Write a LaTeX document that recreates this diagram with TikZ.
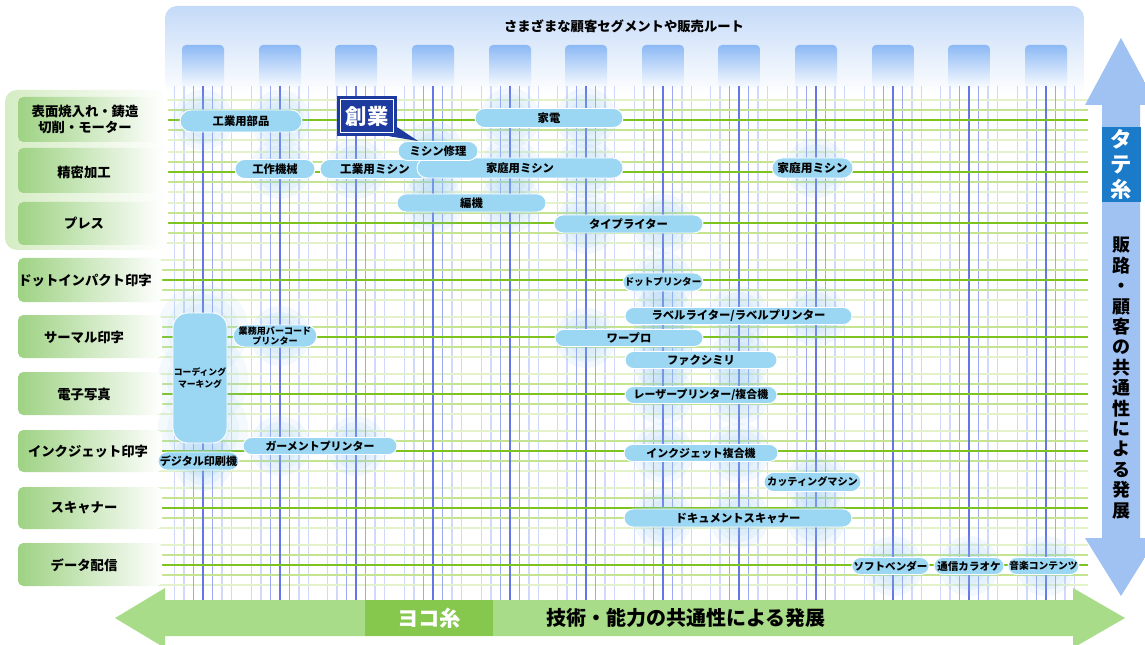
\documentclass[tikz,border=0pt]{standalone}
\usepackage{fontspec}
\setmainfont{Noto Sans CJK JP}
\usetikzlibrary{shapes.misc}
\definecolor{hdrtop}{HTML}{C4DAF8}
\definecolor{colbox}{HTML}{8CB9F5}
\definecolor{vdk}{HTML}{6675E6}
\definecolor{vmd}{HTML}{9CA8F2}
\definecolor{vpl}{HTML}{D0D8FB}
\definecolor{gth}{HTML}{7DC320}
\definecolor{gmd}{HTML}{C4E492}
\definecolor{gpl}{HTML}{E4F2CB}
\definecolor{pillc}{HTML}{9BD7F3}
\definecolor{glowc}{HTML}{8CC6F0}
\definecolor{lblg}{HTML}{9ED283}
\definecolor{panelg}{HTML}{D5ECC4}
\definecolor{sogyoc}{HTML}{1D3A9E}
\definecolor{tatec}{HTML}{1C7BC8}
\definecolor{yokoc}{HTML}{86C84E}
\definecolor{arrb}{HTML}{9FC2F2}
\definecolor{arrbl}{HTML}{E4EDFB}
\definecolor{arrg}{HTML}{A9DC89}
\definecolor{arrgl}{HTML}{E2F3D2}
\tikzset{
  pill/.style={rounded rectangle, fill=pillc, draw=white, line width=0.7pt, inner sep=0pt, align=center, text=black},
  lbltext/.style={font=\bfseries\fontsize{10}{12.5}\selectfont, align=center, text=black},
  lblbox/.style={left color=lblg, right color=white, rounded corners=4pt},
  vpale/.style={vpl, line width=0.8pt},
  vmed/.style={vmd, line width=1.1pt},
  vdark/.style={vdk, line width=1.9pt},
  hpale/.style={gpl, line width=0.8pt},
  hmed/.style={gmd, line width=1pt},
  hthick/.style={gth, line width=1.8pt},
  colsq/.style={top color=colbox, bottom color=white, rounded corners=3pt},
}
\newcommand\pillnode[7][8.5]{\node[pill, font=\bfseries\fontsize{#1}{#1}\selectfont, minimum width={(#4-#3)*0.75pt}, minimum height={#6*0.75pt}] (#2) at ({(#3+#4)/2},#5) {#7};}
\begin{document}
\begin{tikzpicture}[x=0.75pt,y=-0.75pt]
\useasboundingbox (0,0) rectangle (1145,645);
\clip (0,0) rectangle (1145,645);
\fill[white] (0,0) rectangle (1145,645);
% header panel
\shade[top color=hdrtop, bottom color=white, rounded corners=9pt] (165,6) rectangle (1084,95);
\node[font=\bfseries\fontsize{10}{12}\selectfont] (title) at (624,26) {さまざまな顧客セグメントや販売ルート};
\foreach \c [count=\i] in {203,280,356,433,510,586,663,739,816,893,969,1046}{
  \shade[colsq] ({\c-21},45) rectangle ({\c+21},90);
}
% grid
\foreach \c in {203,280,356,433,510,586,663,739,816,893,969,1046}{
  \foreach \o in {-28.5,-19,19,28.5} \draw[vpale] ({\c+\o},86) -- ({\c+\o},600);
}
\foreach \r in {120,172,223,280,337,394,451,508,565}{
  \foreach \o in {-20,20} \draw[hpale] (155,{\r+\o}) -- (1088,{\r+\o});
}
\foreach \c in {203,280,356,433,510,586,663,739,816,893,969,1046}{
  \foreach \o in {-9.5,9.5} \draw[vmed] ({\c+\o},86) -- ({\c+\o},600);
}
\foreach \r in {120,172,223,280,337,394,451,508,565}{
  \foreach \o in {-10,10} \draw[hmed] (155,{\r+\o}) -- (1088,{\r+\o});
}
\foreach \c in {203,280,356,433,510,586,663,739,816,893,969,1046}{
  \draw[vdark] (\c,86) -- (\c,600);
}
\foreach \r in {120,172,223,280,337,394,451,508,565}{
  \draw[hthick] (155,\r) -- (1088,\r);
}
% glows
\foreach \gx/\gy in {203/120,280/120,510/118,586/118,433/151,280/169,356/169,433/168,510/168,586/168,816/168,433/203,510/203,586/224,663/224,663/282,663/316,739/316,816/316,586/338,663/338,663/360,739/360,663/395,739/395,663/453,739/453,816/482,663/518,739/518,816/518,893/566,969/566,1046/566,280/336,280/446,356/446,203/461}{
  \foreach \rr in {9,13.5,18,22.5} \fill[glowc, opacity=0.11] (\gx,\gy) circle (\rr pt);
}
\foreach \gy in {330,380,430}{
  \foreach \rr in {20,27,34} \fill[glowc, opacity=0.09] (203,\gy) circle (\rr pt);
}
% left labels
\shade[left color=panelg, right color=white, rounded corners=9pt] (5,90) rectangle (168,250);
\foreach \ya/\yb in {97/142,148/193,202/245,258/302,315/358,372/415,430/472,487/529,543/586}{
  \shade[lblbox] (18,\ya) rectangle (162,\yb);
}
\node[lbltext] (r1) at (85,119.5) {表面焼入れ・鋳造\\切削・モーター};
\node[lbltext] (r2) at (84,172) {精密加工};
\node[lbltext] (r3) at (84,223) {プレス};
\node[lbltext] (r4) at (85,280) {ドットインパクト印字};
\node[lbltext] (r5) at (84,337) {サーマル印字};
\node[lbltext] (r6) at (84,394) {電子写真};
\node[lbltext] (r7) at (88,451) {インクジェット印字};
\node[lbltext] (r8) at (84,508) {スキャナー};
\node[lbltext] (r9) at (84,565) {データ配信};
% pills
\pillnode{buhin}{180}{302}{121}{22}{工業用部品}
\pillnode{kaden}{475}{623}{118}{19}{家電}
\pillnode{kosaku}{235}{315}{169}{19}{工作機械}
\pillnode[8.7]{kmishin}{320}{430}{169}{19}{工業用ミシン}
\pillnode{katei}{417}{623}{168}{20}{家庭用ミシン}
\pillnode{shuri}{398}{478}{151}{19}{ミシン修理}
\pillnode[8.8]{katei2}{772}{853}{168}{20}{家庭用ミシン}
\pillnode{amiki}{397}{546}{203}{18}{編機}
\pillnode{typew}{554}{703}{224}{18}{タイプライター}
\pillnode[7.2]{dotp}{623}{703}{282}{18}{ドットプリンター}
\pillnode{labelp}{625}{852}{316}{17}{ラベルライター/ラベルプリンター}
\pillnode{wapuro}{555}{703}{338}{17}{ワープロ}
\pillnode{fax}{625}{777}{360}{17}{ファクシミリ}
\pillnode[8.2]{laser}{625}{777}{395}{17}{レーザープリンター/複合機}
\pillnode[8.2]{inkj}{624}{778}{453}{17}{インクジェット複合機}
\pillnode[7.6]{cutting}{764}{861}{482}{19}{カッティングマシン}
\pillnode{docscan}{624}{852}{518}{18}{ドキュメントスキャナー}
\pillnode[7.9]{soft}{852}{929}{566}{17}{ソフトベンダー}
\pillnode[7.9]{karaoke}{934}{1004}{566}{17}{通信カラオケ}
\pillnode[7.3]{music}{1008}{1079}{566}{17}{音楽コンテンツ}
\pillnode[8.2]{garment}{243}{397}{446}{17}{ガーメントプリンター}
\node[rectangle, rounded corners=11pt, fill=pillc, draw=white, line width=0.7pt, minimum width=54*0.75pt, minimum height=130*0.75pt, inner sep=0pt, align=center, font=\bfseries\fontsize{6.6}{8.5}\selectfont] (coding) at (200,378) {コーディング\\マーキング};
\node[rounded rectangle, fill=pillc, draw=white, line width=0.7pt, minimum width=80*0.75pt, minimum height=22*0.75pt, inner sep=0pt, align=center, font=\bfseries\fontsize{6.8}{8}\selectfont] (gyomu) at (275,336) {業務用バーコード\\プリンター};
\pillnode[8.3]{digital}{158}{239}{461}{18}{デジタル印刷機}
% sogyo callout
\node[fill=sogyoc, minimum width=60*0.75pt, minimum height=40*0.75pt, inner sep=0pt, text=white, font=\bfseries\fontsize{16}{18}\selectfont] (sogyo) at (367,116) {創業};
\coordinate (sogyotip) at (418,141);
\fill[sogyoc] ([xshift=-8*0.75pt]sogyo.south east) -- (sogyotip) -- ([yshift=9*0.75pt]sogyo.south east) -- cycle;
\draw[white, line width=0.9pt] ([shift={(3.5,3.5)}]sogyo.north west) rectangle ([shift={(-3.5,-3.5)}]sogyo.south east);
% vertical arrow
\shade[top color=arrb, middle color=arrbl, bottom color=arrb] (1121,38) -- (1085,105) -- (1102,105) -- (1102,538) -- (1085,538) -- (1121,596) -- (1157,538) -- (1140,538) -- (1140,105) -- (1157,105) -- cycle;
\node[fill=tatec, minimum width=39*0.75pt, minimum height=75*0.75pt, inner sep=0pt, text=white, align=center, font=\bfseries\fontsize{16}{18.5}\selectfont] (tate) at (1121,164.5) {タ\\テ\\糸};
\node[align=center, font=\bfseries\fontsize{13.5}{15.3}\selectfont] (tatetext) at (1121,378) {販\\路\\・\\顧\\客\\の\\共\\通\\性\\に\\よ\\る\\発\\展};
% horizontal arrow
\shade[left color=arrg, middle color=arrgl, right color=arrg] (115,618) -- (165,588) -- (165,600) -- (1073,600) -- (1073,588) -- (1125,618) -- (1073,648) -- (1073,636) -- (165,636) -- (165,648) -- cycle;
\node[fill=yokoc, minimum width=128*0.75pt, minimum height=36*0.75pt, inner sep=0pt, text=white, font=\bfseries\fontsize{16}{18}\selectfont] (yoko) at (429,618) {ヨコ糸};
\node[font=\bfseries\fontsize{15}{17}\selectfont] (yokotext) at (686,618) {技術・能力の共通性による発展};
\end{tikzpicture}
\end{document}
